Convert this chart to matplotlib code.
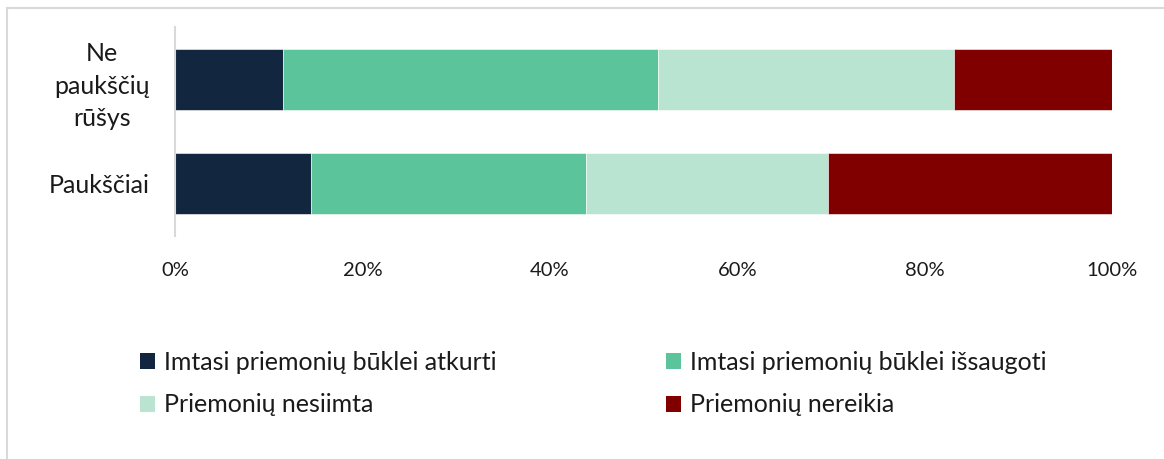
import matplotlib
matplotlib.use("Agg")
import matplotlib.pyplot as plt
from matplotlib.lines import Line2D
from matplotlib.patches import Patch
from matplotlib.ticker import FuncFormatter

categories = ["Paukščiai", "Ne\npaukščių\nrūšys"]
series_names = ["Imtasi priemonių būklei atkurti",
                "Imtasi priemonių būklei išsaugoti",
                "Priemonių nesiimta",
                "Priemonių nereikia"]
values = {
    "Imtasi priemonių būklei atkurti":   [14.5, 11.5],
    "Imtasi priemonių būklei išsaugoti": [29.4, 40.0],
    "Priemonių nesiimta":                [25.8, 31.6],
    "Priemonių nereikia":                [30.3, 16.9],
}
colors = ["#12263f", "#5bc49a", "#b9e4d2", "#800000"]
xticks = [0, 20, 40, 60, 80, 100]

plt.rcParams['font.family'] = ['Lato', 'DejaVu Sans']

fig = plt.figure(figsize=(11.64, 4.59), dpi=100)
ax = fig.add_axes([175/1164, 1-236/459, 937/1164, 209/459])

left = [0.0] * len(categories)
for name, c in zip(series_names, colors):
    v = values[name]
    ax.barh(range(len(categories)), v, left=left, height=0.58, color=c,
            edgecolor='white', linewidth=0.4)
    left = [l + x for l, x in zip(left, v)]

ax.set_xlim(0, 100)
ax.set_ylim(-0.5, 1.5)
ax.set_yticks(range(len(categories)))
ax.set_yticklabels(categories, fontsize=18, color='#1a1a1a', multialignment='center',
                   linespacing=1.5)
ax.set_xticks(xticks)
ax.xaxis.set_major_formatter(FuncFormatter(lambda x, p: f"{int(x)}%"))
ax.tick_params(axis='x', length=0, pad=19, labelsize=14.5, labelcolor='#1a1a1a')
ax.tick_params(axis='y', length=0, pad=18)
for s in ['top', 'right', 'bottom']:
    ax.spines[s].set_visible(False)
ax.spines['left'].set_color('#d9d9d9')
ax.spines['left'].set_linewidth(1.5)

order = [0, 2, 1, 3]
handles = [Patch(facecolor=colors[i], edgecolor='none') for i in order]
labels = [series_names[i] for i in order]
leg = fig.legend(handles, labels, loc='upper left', ncol=2,
                 bbox_to_anchor=(120/1164, 1-331/459), frameon=False,
                 prop={'size': 18},
                 handlelength=0.6, handleheight=0.6, handletextpad=0.35,
                 columnspacing=6.8, labelspacing=0.78, borderpad=0.3)
for t in leg.get_texts():
    t.set_color('#1a1a1a')

fig.add_artist(Line2D([7/1164, 1], [1-8/459, 1-8/459], color='#d9d9d9', lw=1.5))
fig.add_artist(Line2D([7/1164, 7/1164], [0, 1-8/459], color='#d9d9d9', lw=1.5))

fig.savefig("out.png", dpi=100, facecolor='white')
